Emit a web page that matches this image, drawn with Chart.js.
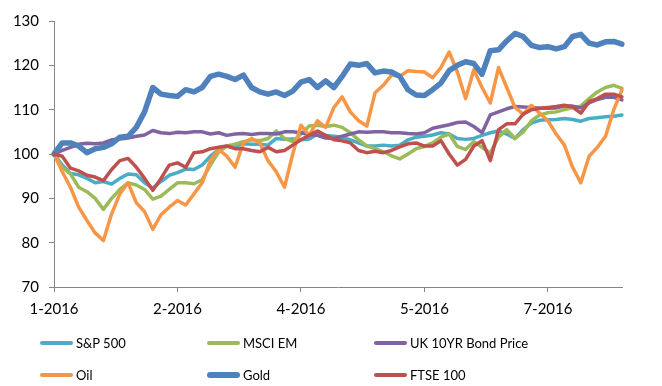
<!DOCTYPE html>
<html>
<head>
<meta charset="utf-8">
<script src="https://cdn.jsdelivr.net/npm/chart.js@4"></script>
<style>
html, body { margin: 0; padding: 0; background: #fff; overflow: hidden; }
#wrap { position: relative; width: 662px; height: 386px; }
#legend { position: absolute; left: 0; top: 0; width: 662px; height: 386px; pointer-events: none;
          font-family: Lato, "Open Sans", sans-serif; font-size: 13px; color: #000; }
.item { position: absolute; display: flex; align-items: center; height: 20px; white-space: nowrap; }
.swatch { display: inline-block; width: 33px; border-radius: 3px; margin-right: 3px; }
</style>
</head>
<body>
<div id="wrap">
  <canvas id="chart1" width="662" height="386"></canvas>
  <div id="legend"></div>
</div>
<script>
/************* data ********* */
const tickLabels = ["1-2016", "2-2016", "4-2016", "5-2016", "7-2016"];
const tickStep = 15;

const sp500 = [100, 97.5, 95.6, 95.3, 94.5, 93.5, 93.8, 93.2, 94.5, 95.5,
  95.3, 93.5, 92.3, 93.8, 95.2, 95.8, 96.6, 96.5, 97.5, 99.5,
  101, 101.8, 101.8, 102.3, 102.2, 102.2, 102, 103.5, 103.3, 103.4,
  103.2, 103.4, 104.5, 104.2, 104, 103.8, 103.2, 102.5, 101.8, 101.8,
  102, 101.8, 102, 103.2, 103.8, 104, 104.3, 104.8, 104.5, 103.5,
  103.3, 103.5, 104.2, 104.8, 105.2, 104.5, 103.5, 105.5, 107, 107.6,
  107.7, 107.8, 108, 107.8, 107.4, 108, 108.2, 108.4, 108.5, 108.8];

const msciEm = [100, 97, 95.5, 92.5, 91.5, 90, 87.5, 90, 92, 93.5,
  93, 92, 89.8, 90.5, 92, 93.5, 93.5, 93.3, 94.2, 97.5,
  100.5, 101.8, 102.2, 102.8, 103.2, 103, 103.5, 105.2, 103.5, 102.8,
  104.5, 106.3, 106.5, 106.2, 106.5, 106, 104.8, 103.2, 101.8, 101.2,
  100.5, 99.6, 98.9, 100, 101.2, 101.7, 102.5, 103.8, 104.5, 101.7,
  101, 102.8, 101.5, 100.2, 103.8, 105.5, 103.5, 105, 107.5, 108.8,
  109.3, 109.5, 110, 110.5, 110.8, 112.5, 114, 115, 115.5, 114.8];

const ukBond = [100, 100.8, 101.5, 102.2, 102.4, 102.3, 102.5, 103.2, 103.4, 103.6,
  104, 104.3, 105.3, 104.8, 104.6, 104.9, 104.8, 105, 105, 104.5,
  104.8, 104.2, 104.5, 104.6, 104.4, 104.6, 104.6, 104.5, 105, 105,
  104.8, 104.4, 104.2, 103.6, 103.5, 104, 104.5, 105, 104.9, 105,
  105, 104.8, 104.8, 104.6, 104.5, 104.8, 105.8, 106.2, 106.6, 107.1,
  107.2, 106.2, 104.8, 108.8, 109.5, 110.2, 110.7, 110.6, 110.5, 110.3,
  110.3, 110.4, 110.8, 110.8, 110.4, 111.5, 112.3, 112.8, 112.8, 112.2];

const oil = [100, 96, 92.5, 88, 85, 82.2, 80.5, 86.5, 91, 93.5,
  89, 87, 83, 86.3, 88, 89.5, 88.5, 91, 93.5, 98.5,
  101, 99.5, 97, 102.5, 103.5, 102.5, 98.5, 96, 92.5, 100,
  106.5, 104.2, 107.5, 106, 110.5, 112.9, 109.5, 107.5, 106.3, 113.8,
  115.5, 117.8, 117.5, 118.8, 118.6, 118.5, 117.2, 119.5, 123, 118.5,
  112.5, 119, 115, 111.5, 119.5, 115, 110.5, 109, 111, 109.2,
  107.5, 104.5, 102, 97, 93.5, 99.5, 101.5, 104, 110, 114.5];

const gold = [100, 102.5, 102.5, 101.8, 100.3, 101.2, 101.5, 102.3, 103.8, 104,
  106, 109.5, 115, 113.5, 113.2, 113, 114.5, 114, 115, 117.5,
  118, 117.5, 116.8, 117.8, 115, 114, 113.5, 114, 113.2, 114.2,
  116.2, 116.8, 115, 116.5, 115, 117.5, 120.3, 120, 120.4, 118.3,
  118.7, 118.5, 117.5, 114.5, 113.3, 113.2, 114.5, 116, 118.8, 120,
  120.8, 120.4, 118, 123.3, 123.5, 125.5, 127.2, 126.5, 124.5, 124,
  124.2, 123.7, 124.2, 126.5, 127, 125, 124.6, 125.3, 125.4, 124.8];

const ftse100 = [100, 99.5, 96.8, 96.2, 95.2, 94.8, 94, 96.5, 98.5, 99,
  97, 94.5, 91.8, 94.5, 97.5, 98, 97, 100.3, 100.5, 101.2,
  101.5, 101.8, 101.2, 101.2, 100.8, 100.5, 101.5, 100.5, 100.8, 102,
  103.2, 104.2, 105.2, 104.2, 103.2, 103, 102.5, 100.8, 100.3, 100.6,
  100.3, 100.8, 101.6, 102.3, 102.5, 101.8, 101.8, 103, 100, 97.5,
  98.8, 101.8, 103, 98.5, 105.5, 106.8, 106.8, 109, 110, 110.3,
  110.5, 110.7, 111, 110.6, 109.2, 111.8, 112.5, 113.5, 113.5, 112.9];

const seriesNames = ["S&P 500", "MSCI EM", "UK 10YR Bond Price", "Oil", "Gold", "FTSE 100"];
const seriesValues = [sp500, msciEm, ukBond, oil, gold, ftse100];
const seriesColors = ['#4BACC6', '#9BBB59', '#8064A2', '#F79646', '#4F81BD', '#C0504D'];
const seriesWidths = [3.5, 3.5, 3.5, 3.5, 5.5, 3.5];

const categories = sp500.map((v, i) => (i % tickStep === 0 ? tickLabels[i / tickStep] : ''));

const datasets = seriesNames.map((name, i) => ({
  label: name,
  data: seriesValues[i],
  borderColor: seriesColors[i],
  backgroundColor: seriesColors[i],
  borderWidth: seriesWidths[i],
  pointRadius: 0,
  tension: 0,
  fill: false,
  // later series drawn on top, like the original
  order: seriesNames.length - 1 - i
}));

const axisColor = '#868686';
const tickFont = { family: 'Lato', size: 15 };

new Chart("chart1", {
  type: "line",
  data: { labels: categories, datasets: datasets },
  options: {
    responsive: false,
    animation: false,
    layout: { padding: { left: 0, right: 40, top: 21, bottom: 70 } },
    plugins: { legend: { display: false }, tooltip: { enabled: false } },
    elements: { line: { borderJoinStyle: 'round', borderCapStyle: 'round' } },
    scales: {
      x: {
        grid: {
          drawOnChartArea: false,
          tickLength: 5,
          color: ctx => (ctx.index % tickStep === 0 ? axisColor : 'rgba(0,0,0,0)')
        },
        border: { color: axisColor },
        ticks: {
          autoSkip: false, maxRotation: 0, minRotation: 0, padding: 8,
          color: '#000', font: tickFont
        },
        afterFit: s => { s.height = 29; }
      },
      y: {
        min: 70, max: 130,
        grid: { drawOnChartArea: false, tickLength: 5, color: axisColor },
        border: { color: axisColor },
        ticks: { stepSize: 10, padding: 10, color: '#000', font: tickFont },
        afterFit: s => { s.width = 54; }
      }
    }
  }
});

/************* legend ********* */
const legendEl = document.getElementById('legend');
const colX = [40, 207, 374];
const rowY = [343, 375];
datasets.forEach((ds, i) => {
  const item = document.createElement('div');
  item.className = 'item';
  item.style.left = colX[i % 3] + 'px';
  item.style.top = (rowY[Math.floor(i / 3)] - 10) + 'px';
  const sw = document.createElement('span');
  sw.className = 'swatch';
  sw.style.background = ds.borderColor;
  sw.style.height = (ds.borderWidth + 0.5) + 'px';
  const txt = document.createElement('span');
  txt.textContent = ds.label;
  item.appendChild(sw);
  item.appendChild(txt);
  legendEl.appendChild(item);
});
</script>
</body>
</html>
